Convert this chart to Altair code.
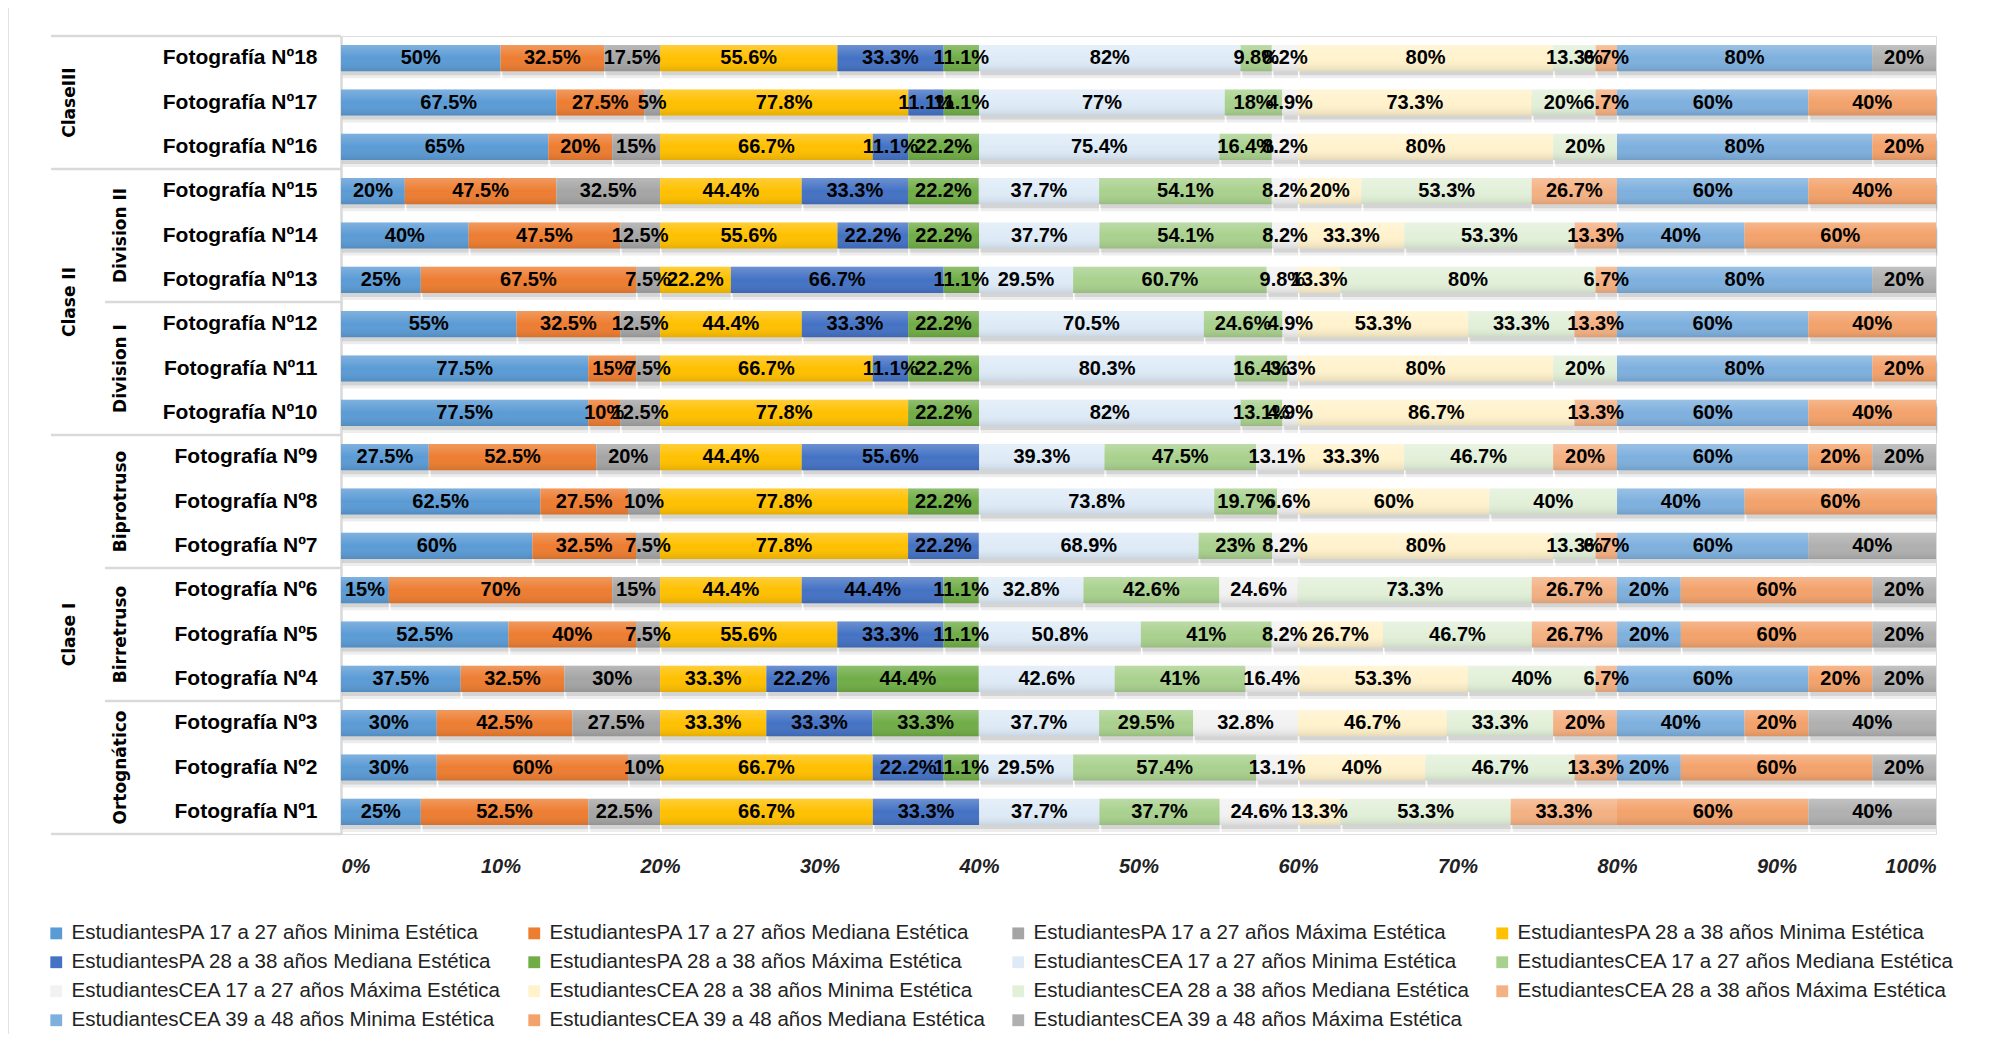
import altair as alt
import pandas as pd

# ---------------- data ----------------
photos = [f"Fotografía Nº{i}" for i in range(1, 19)]

series = [
    "EstudiantesPA 17 a 27 años Minima Estética",
    "EstudiantesPA 17 a 27 años Mediana Estética",
    "EstudiantesPA 17 a 27 años Máxima Estética",
    "EstudiantesPA 28 a 38 años Minima Estética",
    "EstudiantesPA 28 a 38 años Mediana Estética",
    "EstudiantesPA 28 a 38 años Máxima Estética",
    "EstudiantesCEA 17 a 27 años Minima Estética",
    "EstudiantesCEA 17 a 27 años Mediana Estética",
    "EstudiantesCEA 17 a 27 años Máxima Estética",
    "EstudiantesCEA 28 a 38 años Minima Estética",
    "EstudiantesCEA 28 a 38 años Mediana Estética",
    "EstudiantesCEA 28 a 38 años Máxima Estética",
    "EstudiantesCEA 39 a 48 años Minima Estética",
    "EstudiantesCEA 39 a 48 años Mediana Estética",
    "EstudiantesCEA 39 a 48 años Máxima Estética",
]

colors = [
    "#5B9BD5", "#ED7D31", "#A5A5A5",
    "#FFC000", "#4472C4", "#70AD47",
    "#DEEBF7", "#A9D18E", "#F2F2F2",
    "#FFF2CC", "#E2F0D9", "#F4B183",
    "#7EB0DE", "#F3A26B", "#B0B0B0",
]

# values (%) per photograph, in series order
foto_01 = [25, 52.5, 22.5, 66.7, 33.3, 0, 37.7, 37.7, 24.6, 13.3, 53.3, 33.3, 0, 60, 40]
foto_02 = [30, 60, 10, 66.7, 22.2, 11.1, 29.5, 57.4, 13.1, 40, 46.7, 13.3, 20, 60, 20]
foto_03 = [30, 42.5, 27.5, 33.3, 33.3, 33.3, 37.7, 29.5, 32.8, 46.7, 33.3, 20, 40, 20, 40]
foto_04 = [37.5, 32.5, 30, 33.3, 22.2, 44.4, 42.6, 41, 16.4, 53.3, 40, 6.7, 60, 20, 20]
foto_05 = [52.5, 40, 7.5, 55.6, 33.3, 11.1, 50.8, 41, 8.2, 26.7, 46.7, 26.7, 20, 60, 20]
foto_06 = [15, 70, 15, 44.4, 44.4, 11.1, 32.8, 42.6, 24.6, 0, 73.3, 26.7, 20, 60, 20]
foto_07 = [60, 32.5, 7.5, 77.8, 22.2, 0, 68.9, 23, 8.2, 80, 13.3, 6.7, 60, 0, 40]
foto_08 = [62.5, 27.5, 10, 77.8, 0, 22.2, 73.8, 19.7, 6.6, 60, 40, 0, 40, 60, 0]
foto_09 = [27.5, 52.5, 20, 44.4, 55.6, 0, 39.3, 47.5, 13.1, 33.3, 46.7, 20, 60, 20, 20]
foto_10 = [77.5, 10, 12.5, 77.8, 0, 22.2, 82, 13.1, 4.9, 86.7, 0, 13.3, 60, 40, 0]
foto_11 = [77.5, 15, 7.5, 66.7, 11.1, 22.2, 80.3, 16.4, 3.3, 80, 20, 0, 80, 20, 0]
foto_12 = [55, 32.5, 12.5, 44.4, 33.3, 22.2, 70.5, 24.6, 4.9, 53.3, 33.3, 13.3, 60, 40, 0]
foto_13 = [25, 67.5, 7.5, 22.2, 66.7, 11.1, 29.5, 60.7, 9.8, 13.3, 80, 6.7, 80, 0, 20]
foto_14 = [40, 47.5, 12.5, 55.6, 22.2, 22.2, 37.7, 54.1, 8.2, 33.3, 53.3, 13.3, 40, 60, 0]
foto_15 = [20, 47.5, 32.5, 44.4, 33.3, 22.2, 37.7, 54.1, 8.2, 20, 53.3, 26.7, 60, 40, 0]
foto_16 = [65, 20, 15, 66.7, 11.1, 22.2, 75.4, 16.4, 8.2, 80, 20, 0, 80, 20, 0]
foto_17 = [67.5, 27.5, 5, 77.8, 11.1, 11.1, 77, 18, 4.9, 73.3, 20, 6.7, 60, 40, 0]
foto_18 = [50, 32.5, 17.5, 55.6, 33.3, 11.1, 82, 9.8, 8.2, 80, 13.3, 6.7, 80, 0, 20]

all_values = [foto_01, foto_02, foto_03, foto_04, foto_05, foto_06, foto_07, foto_08, foto_09,
              foto_10, foto_11, foto_12, foto_13, foto_14, foto_15, foto_16, foto_17, foto_18]

# category hierarchy (display order, top to bottom)
level1_groups = [
    ("ClaseIII", [18, 17, 16]),
    ("Clase II", [15, 14, 13, 12, 11, 10]),
    ("Clase I", [9, 8, 7, 6, 5, 4, 3, 2, 1]),
]
level2_groups = [
    ("Division II", [15, 14, 13]),
    ("Division I", [12, 11, 10]),
    ("Biprotruso", [9, 8, 7]),
    ("Birretruso", [6, 5, 4]),
    ("Ortognático", [3, 2, 1]),
]

# ---------------- tables ----------------
rows = []
for p, vals in zip(photos, all_values):
    for k, (s, v) in enumerate(zip(series, vals)):
        rows.append({"photo": p, "series": s, "order": k, "value": v, "label": f"{v:g}%"})
df = pd.DataFrame(rows)

display_order = photos[::-1]


def pname(i):
    return f"Fotografía Nº{i}"


lab_rows = []
for lvl, groups in ((1, level1_groups), (2, level2_groups)):
    for name, members in groups:
        n = len(members)
        if n % 2:
            anchor, shift = members[n // 2], 0
        else:
            anchor, shift = members[n // 2 - 1], 1
        lab_rows.append({"photo": pname(anchor), "name": name, "level": lvl, "shift": shift})
labels_df = pd.DataFrame(lab_rows)

l1_bottoms = {members[-1] for _, members in level1_groups}
rule_rows = [{"photo": pname(m[-1]), "level": 1} for _, m in level1_groups]
rule_rows += [{"photo": pname(m[-1]), "level": 2} for _, m in level2_groups if m[-1] not in l1_bottoms]
rules_df = pd.DataFrame(rule_rows)
top_df = pd.DataFrame([{"photo": pname(level1_groups[0][1][0])}])

# legend entries: the legend grid fills column by column, so permute the
# series to read row by row (4 columns) as in the reference
NCOL = 4
NROW = -(-len(series) // NCOL)
legend_values = [series[r * NCOL + c] for c in range(NCOL) for r in range(NROW)
                 if r * NCOL + c < len(series)]

# ---------------- layout ----------------
W, H = 1595, 798
HALF = H / len(photos) / 2
FONT = "Liberation Sans, Arial, sans-serif"
GROUP_FONT = "DejaVu Sans, Verdana, sans-serif"
LINE = "#D9D9D9"

y_enc = alt.Y(
    "photo:N",
    sort=display_order,
    scale=alt.Scale(paddingInner=0.41, paddingOuter=0.205),
    axis=alt.Axis(
        title=None, ticks=False, tickSize=0, labelPadding=24,
        labelFont=FONT, labelFontSize=21, labelFontWeight="bold", labelColor="#000000",
        domain=True, domainColor=LINE, domainWidth=2.5,
    ),
)

x_axis = alt.Axis(
    title=None, format="%", values=[round(i / 10, 1) for i in range(11)],
    domain=False, ticks=False, tickSize=0, grid=False, labelPadding=22,
    labelFont=FONT, labelFontSize=20, labelFontWeight="bold", labelFontStyle="italic",
    labelColor="#222222",
)
x_scale = alt.Scale(domain=[0, 1], nice=False)

base = alt.Chart(df).transform_stack(
    stack="value", groupby=["photo"], as_=["x0", "x1"], offset="normalize",
    sort=[alt.SortField("order", order="ascending")],
).transform_calculate(mid="(datum.x0 + datum.x1) / 2")

pos = dict(x=alt.X("x0:Q", scale=x_scale, axis=x_axis), x2="x1:Q", y=y_enc)

shadow1 = base.mark_bar(color="#000000", opacity=0.07, yOffset=7, xOffset=2).encode(**pos)
shadow2 = base.mark_bar(color="#000000", opacity=0.10, yOffset=4, xOffset=1).encode(**pos)

bars = base.mark_bar().encode(
    **pos,
    color=alt.Color(
        "series:N", sort=series,
        scale=alt.Scale(domain=series, range=colors),
        legend=alt.Legend(
            title=None, orient="none", legendX=-295, legendY=887, columns=NCOL,
            values=legend_values,
            symbolType="square", symbolSize=140, symbolStrokeWidth=0,
            labelFont=FONT, labelFontSize=20.5, labelColor="#222222", labelLimit=800,
            labelOffset=5, columnPadding=22, rowPadding=8, padding=0,
        ),
    ),
)

sheen = base.mark_bar(
    color=alt.Gradient(
        gradient="linear",
        stops=[
            alt.GradientStop(color="rgba(255,255,255,0.22)", offset=0),
            alt.GradientStop(color="rgba(255,255,255,0.0)", offset=0.5),
            alt.GradientStop(color="rgba(0,0,0,0.10)", offset=1),
        ],
        x1=0, x2=0, y1=0, y2=1,
    )
).encode(**pos)

texts = base.transform_filter("datum.value > 0").mark_text(
    font=FONT, fontSize=20, fontWeight="bold", color="#000000",
    align="center", baseline="middle",
).encode(x=alt.X("mid:Q", scale=x_scale, axis=x_axis), y=y_enc, text="label:N")

# hierarchy labels
def group_text(filter_expr, xpos, **extra):
    return alt.Chart(labels_df).transform_filter(filter_expr).mark_text(
        font=GROUP_FONT, fontSize=17, fontWeight="bold", color="#000000",
        angle=270, align="center", baseline="middle", **extra,
    ).encode(x=alt.value(xpos), y=y_enc, text="name:N")


lab1 = group_text("datum.level == 1 && datum.shift == 0", -271)
lab1s = group_text("datum.level == 1 && datum.shift == 1", -271, yOffset=HALF)
lab2 = group_text("datum.level == 2", -220)

# separator lines
rule1 = alt.Chart(rules_df).transform_filter("datum.level == 1").mark_rule(
    color=LINE, strokeWidth=2.5, yOffset=HALF
).encode(x=alt.value(-290), x2=alt.value(0), y=y_enc)
rule2 = alt.Chart(rules_df).transform_filter("datum.level == 2").mark_rule(
    color=LINE, strokeWidth=2.5, yOffset=HALF
).encode(x=alt.value(-236), x2=alt.value(0), y=y_enc)
rule_top = alt.Chart(top_df).mark_rule(
    color=LINE, strokeWidth=2.5, yOffset=-HALF
).encode(x=alt.value(-290), x2=alt.value(0), y=y_enc)

border = alt.Chart(pd.DataFrame({"k": [0]})).mark_rule(color=LINE, strokeWidth=1.5).encode(
    x=alt.value(-333), y=alt.value(-28), y2=alt.value(1000)
)

chart = alt.layer(
    border, shadow1, shadow2, bars, sheen, texts,
    rule_top, rule1, rule2, lab1, lab1s, lab2,
).properties(
    width=W, height=H,
    autosize=alt.AutoSizeParams(type="none"),
    padding={"left": 333, "top": 28, "right": 49, "bottom": 200},
).configure_view(stroke=None).configure(background="white")

chart.save("out.html", embed_options={"renderer": "svg", "actions": False})
